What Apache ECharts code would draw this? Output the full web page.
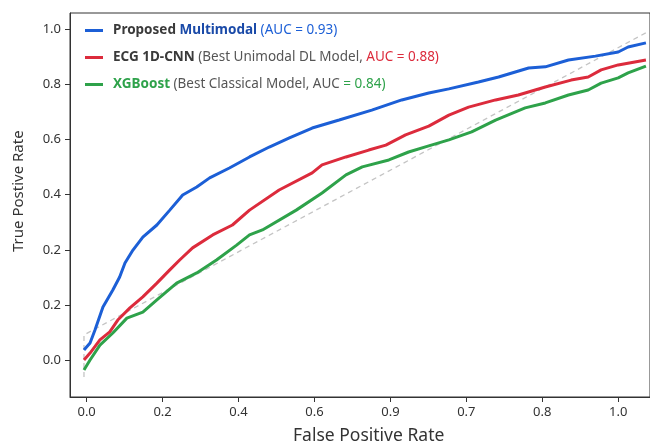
<!DOCTYPE html>
<html>
<head>
<meta charset="utf-8">
<script src="https://cdn.jsdelivr.net/npm/echarts@6/dist/echarts.min.js"></script>
<style>html,body{margin:0;padding:0;background:#fff}#c{width:650px;height:447px}</style>
</head>
<body>
<div id="c"></div>
<script>
const seriesNames = ['Proposed Multimodal', 'ECG 1D-CNN', 'XGBoost'];
const xTickLabels = ['0.0','0.2','0.4','0.6','0.9','0.7','0.8','1.0'];
const yTickLabels = ['0.0','0.2','0.2','0.4','0.6','0.8','1.0'];

const blueData = [[-0.007,0.036],[0.009,0.062],[0.022,0.109],[0.043,0.192],[0.069,0.254],[0.087,0.301],[0.101,0.352],[0.122,0.399],[0.148,0.446],[0.185,0.490],[0.219,0.544],[0.253,0.599],[0.290,0.628],[0.324,0.661],[0.376,0.697],[0.429,0.737],[0.481,0.773],[0.534,0.806],[0.594,0.842],[0.665,0.871],[0.751,0.907],[0.830,0.944],[0.901,0.969],[0.954,0.984],[1.032,1.009],[1.085,1.027],[1.164,1.060],[1.208,1.064],[1.269,1.089],[1.340,1.103],[1.400,1.118],[1.426,1.136],[1.473,1.151]];
const redData = [[-0.007,0.000],[0.009,0.025],[0.035,0.073],[0.061,0.102],[0.082,0.145],[0.114,0.189],[0.148,0.229],[0.185,0.279],[0.219,0.327],[0.245,0.363],[0.279,0.407],[0.332,0.454],[0.384,0.490],[0.429,0.544],[0.507,0.617],[0.594,0.679],[0.620,0.708],[0.683,0.737],[0.743,0.762],[0.788,0.780],[0.840,0.817],[0.901,0.849],[0.954,0.889],[1.006,0.918],[1.077,0.944],[1.137,0.962],[1.208,0.991],[1.276,1.016],[1.321,1.027],[1.355,1.053],[1.400,1.071],[1.473,1.089]];
const greenData = [[-0.007,-0.036],[0.009,0.000],[0.035,0.054],[0.069,0.098],[0.106,0.152],[0.148,0.174],[0.185,0.218],[0.237,0.279],[0.290,0.316],[0.342,0.363],[0.395,0.417],[0.429,0.454],[0.463,0.472],[0.552,0.544],[0.620,0.606],[0.683,0.672],[0.726,0.701],[0.796,0.726],[0.848,0.755],[0.901,0.777],[0.954,0.799],[1.014,0.828],[1.077,0.871],[1.155,0.915],[1.208,0.933],[1.269,0.962],[1.321,0.980],[1.355,1.005],[1.400,1.024],[1.426,1.042],[1.473,1.067]];
const diagData = [[-0.007,-0.062],[-0.007,0.091],[0.017,0.109],[1.480,1.193]];

const colors = ['#1c5fd6', '#dc2b3c', '#2ea24a'];
const step = 0.2;
const xTicks = xTickLabels.map((_, i) => +(i * step).toFixed(2));
const yTicks = yTickLabels.map((_, i) => +(i * step).toFixed(2));
const font = 'Noto Sans';
const fs = 13.5;

const chart = echarts.init(document.getElementById('c'), null, {renderer: 'canvas'});
const legendFmt = {
  'Proposed Multimodal': '{dk|Proposed} {bl|Multimodal} {blr|(AUC = 0.93)}',
  'ECG 1D-CNN': '{dk|ECG 1D-CNN} {gr|(Best Unimodal DL Model, }{rd|AUC = 0.88)}',
  'XGBoost': '{gn|XGBoost} {gr|(Best Classical Model, AUC }{gnr|= 0.84)}'
};
chart.setOption({
  backgroundColor: '#ffffff',
  animation: false,
  grid: {left: 70, top: 13, right: -3, bottom: 50, show: true, borderColor: '#333', borderWidth: 1, backgroundColor: 'transparent'},
  xAxis: {
    type: 'value', min: -0.0438, max: 1.4837,
    axisLine: {show: true, onZero: false, lineStyle: {color: '#333', width: 1}},
    splitLine: {show: false},
    axisTick: {show: true, length: 5, lineStyle: {color: '#333', width: 1}, customValues: xTicks},
    axisLabel: {customValues: xTicks, color: '#333', fontFamily: font, fontSize: 13, margin: 9,
      formatter: v => xTickLabels[Math.round(v / step)]}
  },
  yAxis: {
    type: 'value', min: -0.1343, max: 1.2595,
    axisLine: {show: true, onZero: false, lineStyle: {color: '#333', width: 1}},
    splitLine: {show: false},
    axisTick: {show: true, length: 5, lineStyle: {color: '#333', width: 1}, customValues: yTicks},
    axisLabel: {customValues: yTicks, color: '#333', fontFamily: font, fontSize: 13, margin: 9,
      formatter: v => yTickLabels[Math.round(v / step)]}
  },
  legend: {
    data: seriesNames,
    orient: 'vertical', left: 80, top: 16,
    icon: 'rect', itemWidth: 18, itemHeight: 3, itemGap: 8,
    formatter: n => legendFmt[n],
    textStyle: {fontFamily: font, fontSize: fs, lineHeight: 19, padding: [0,0,0,5],
      rich: {
        dk: {fontFamily: font, fontSize: fs, fontWeight: 'bold', color: '#3a3a3a'},
        bl: {fontFamily: font, fontSize: fs, fontWeight: 'bold', color: '#1a4aa8'},
        blr: {fontFamily: font, fontSize: fs, color: '#1c5fd6'},
        gr: {fontFamily: font, fontSize: fs, color: '#555'},
        rd: {fontFamily: font, fontSize: fs, color: '#dc2b3c'},
        gn: {fontFamily: font, fontSize: fs, fontWeight: 'bold', color: '#2ea24a'},
        gnr: {fontFamily: font, fontSize: fs, color: '#2ea24a'}
      }}
  },
  graphic: [
    {type: 'text', left: 293, top: 427, style: {text: 'False Positive Rate', font: '17.5px "Noto Sans"', fill: '#333'}},
    {type: 'text', x: 11, y: 252, rotation: Math.PI / 2, style: {text: 'True Postive Rate', font: '15px "Noto Sans"', fill: '#333'}}
  ],
  series: [
    {name: 'diag', type: 'line', data: diagData, symbol: 'none', silent: true, z: 1,
      lineStyle: {color: '#c4c4c4', width: 1.3, type: [5, 4]}},
    {name: seriesNames[0], type: 'line', data: blueData, symbol: 'none', z: 3,
      color: colors[0], lineStyle: {color: colors[0], width: 3}},
    {name: seriesNames[1], type: 'line', data: redData, symbol: 'none', z: 3,
      color: colors[1], lineStyle: {color: colors[1], width: 3}},
    {name: seriesNames[2], type: 'line', data: greenData, symbol: 'none', z: 3,
      color: colors[2], lineStyle: {color: colors[2], width: 3}}
  ]
});
</script>
</body>
</html>
